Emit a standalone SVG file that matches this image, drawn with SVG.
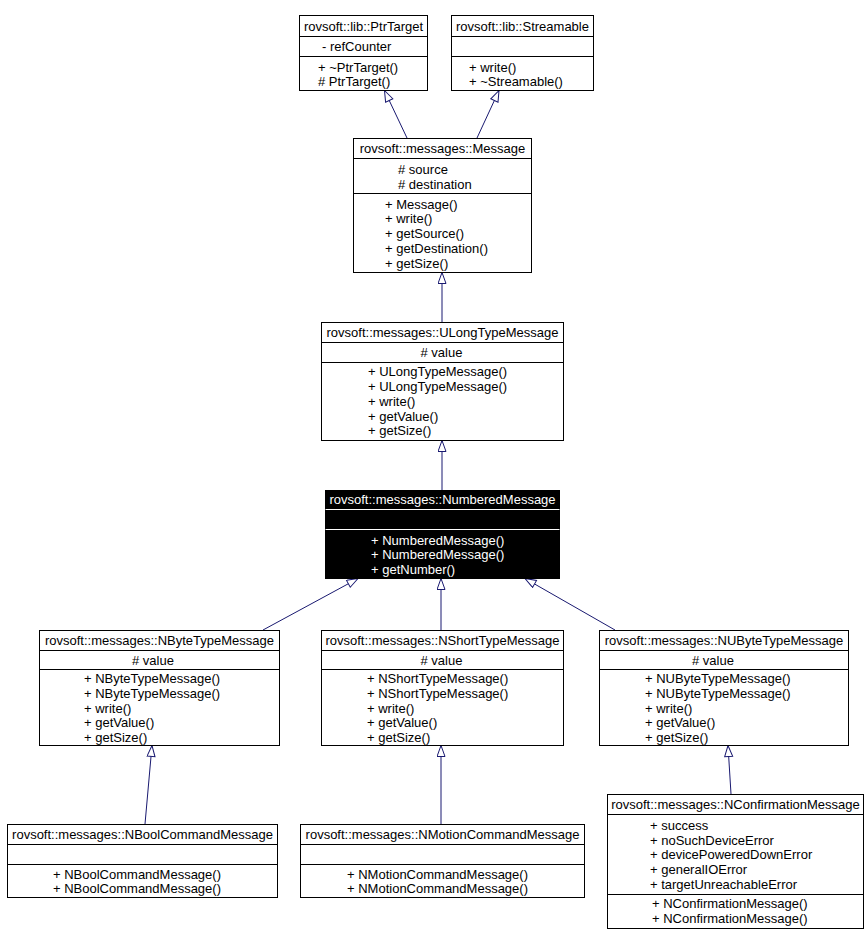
<svg xmlns="http://www.w3.org/2000/svg" width="868" height="945" viewBox="0 0 868 945">
<style>
text{font-family:"Liberation Sans",Arial,sans-serif;font-size:13px;fill:#000}
.b{fill:#fff;stroke:#000;stroke-width:1}
.s{stroke:#000;stroke-width:1}
.t{text-anchor:middle}
.inv .b{fill:#000}
.inv .s{stroke:#fff}
.inv text{fill:#fff}
.c{fill:none;stroke:#191970;stroke-width:1;marker-end:url(#tri)}
</style>
<defs>
<marker id="tri" markerUnits="userSpaceOnUse" markerWidth="14" markerHeight="10" refX="12" refY="4.5" orient="auto" viewBox="0 0 14 10">
<path d="M1,0.5 L12,4.5 L1,8.5 Z" fill="#fff" stroke="#191970" stroke-width="1"/>
</marker>
</defs>
<g id="connectors">
<line class="c" x1="407" y1="138" x2="384.5" y2="90.5"/>
<line class="c" x1="477" y1="138" x2="499" y2="90.5"/>
<line class="c" x1="442" y1="322" x2="442" y2="272.5"/>
<line class="c" x1="442" y1="490" x2="442" y2="440.5"/>
<line class="c" x1="263" y1="630" x2="358" y2="578.5"/>
<line class="c" x1="441" y1="630" x2="441" y2="578.5"/>
<line class="c" x1="615" y1="630" x2="525" y2="578.5"/>
<line class="c" x1="145" y1="824" x2="152" y2="745.5"/>
<line class="c" x1="441" y1="824" x2="441" y2="745.5"/>
<line class="c" x1="731" y1="794" x2="728" y2="745.5"/>
</g>
<g id="PtrTarget">
<rect class="b" x="299.5" y="15.5" width="128" height="75"/>
<line class="s" x1="299.5" y1="36.5" x2="427.5" y2="36.5"/>
<line class="s" x1="299.5" y1="56.5" x2="427.5" y2="56.5"/>
<text class="t" x="363.5" y="30.5">rovsoft::lib::PtrTarget</text>
<text x="322" y="51">- refCounter</text>
<text x="318" y="71.5">+ ~PtrTarget()</text>
<text x="318" y="86">#  PtrTarget()</text>
</g>
<g id="Streamable">
<rect class="b" x="451.5" y="15.5" width="142" height="75"/>
<line class="s" x1="451.5" y1="36.5" x2="593.5" y2="36.5"/>
<line class="s" x1="451.5" y1="56.5" x2="593.5" y2="56.5"/>
<text class="t" x="522.5" y="30.5">rovsoft::lib::Streamable</text>
<text x="469" y="71.5">+ write()</text>
<text x="469" y="86">+ ~Streamable()</text>
</g>
<g id="Message">
<rect class="b" x="353.5" y="138.5" width="178" height="134"/>
<line class="s" x1="353.5" y1="158.5" x2="531.5" y2="158.5"/>
<line class="s" x1="353.5" y1="193.5" x2="531.5" y2="193.5"/>
<text class="t" x="442.5" y="153">rovsoft::messages::Message</text>
<text x="398" y="173.5">#  source</text>
<text x="398" y="188.5">#  destination</text>
<text x="385" y="208.5">+ Message()</text>
<text x="385" y="223">+ write()</text>
<text x="385" y="238">+ getSource()</text>
<text x="385" y="252.5">+ getDestination()</text>
<text x="385" y="267.5">+ getSize()</text>
</g>
<g id="ULongTypeMessage">
<rect class="b" x="321.5" y="322.5" width="242" height="118"/>
<line class="s" x1="321.5" y1="342.5" x2="563.5" y2="342.5"/>
<line class="s" x1="321.5" y1="362.5" x2="563.5" y2="362.5"/>
<text class="t" x="442.5" y="337">rovsoft::messages::ULongTypeMessage</text>
<text class="t" x="441.5" y="357">#  value</text>
<text x="368" y="376">+ ULongTypeMessage()</text>
<text x="368" y="391">+ ULongTypeMessage()</text>
<text x="368" y="405.5">+ write()</text>
<text x="368" y="420.5">+ getValue()</text>
<text x="368" y="435">+ getSize()</text>
</g>
<g id="NumberedMessage" class="inv">
<rect class="b" x="325.5" y="490.5" width="234" height="88"/>
<line class="s" x1="325.5" y1="509.5" x2="559.5" y2="509.5"/>
<line class="s" x1="325.5" y1="529.5" x2="559.5" y2="529.5"/>
<text class="t" x="442.5" y="504">rovsoft::messages::NumberedMessage</text>
<text x="371" y="544.5">+ NumberedMessage()</text>
<text x="371" y="559">+ NumberedMessage()</text>
<text x="371" y="574">+ getNumber()</text>
</g>
<g id="NByteTypeMessage">
<rect class="b" x="39.5" y="630.5" width="240" height="115"/>
<line class="s" x1="39.5" y1="650.5" x2="279.5" y2="650.5"/>
<line class="s" x1="39.5" y1="669.5" x2="279.5" y2="669.5"/>
<text class="t" x="159.5" y="644.5">rovsoft::messages::NByteTypeMessage</text>
<text class="t" x="153" y="664.5">#  value</text>
<text x="84" y="683">+ NByteTypeMessage()</text>
<text x="84" y="697.5">+ NByteTypeMessage()</text>
<text x="84" y="712.5">+ write()</text>
<text x="84" y="727">+ getValue()</text>
<text x="84" y="742">+ getSize()</text>
</g>
<g id="NShortTypeMessage">
<rect class="b" x="321.5" y="630.5" width="242" height="115"/>
<line class="s" x1="321.5" y1="650.5" x2="563.5" y2="650.5"/>
<line class="s" x1="321.5" y1="669.5" x2="563.5" y2="669.5"/>
<text class="t" x="442.5" y="644.5">rovsoft::messages::NShortTypeMessage</text>
<text class="t" x="441.5" y="664.5">#  value</text>
<text x="367" y="683">+ NShortTypeMessage()</text>
<text x="367" y="697.5">+ NShortTypeMessage()</text>
<text x="367" y="712.5">+ write()</text>
<text x="367" y="727">+ getValue()</text>
<text x="367" y="742">+ getSize()</text>
</g>
<g id="NUByteTypeMessage">
<rect class="b" x="599.5" y="630.5" width="249" height="115"/>
<line class="s" x1="599.5" y1="650.5" x2="848.5" y2="650.5"/>
<line class="s" x1="599.5" y1="669.5" x2="848.5" y2="669.5"/>
<text class="t" x="724" y="644.5">rovsoft::messages::NUByteTypeMessage</text>
<text class="t" x="713" y="664.5">#  value</text>
<text x="645" y="683">+ NUByteTypeMessage()</text>
<text x="645" y="697.5">+ NUByteTypeMessage()</text>
<text x="645" y="712.5">+ write()</text>
<text x="645" y="727">+ getValue()</text>
<text x="645" y="742">+ getSize()</text>
</g>
<g id="NBoolCommandMessage">
<rect class="b" x="7.5" y="824.5" width="270" height="73"/>
<line class="s" x1="7.5" y1="844.5" x2="277.5" y2="844.5"/>
<line class="s" x1="7.5" y1="864.5" x2="277.5" y2="864.5"/>
<text class="t" x="142.5" y="839">rovsoft::messages::NBoolCommandMessage</text>
<text x="53" y="879">+ NBoolCommandMessage()</text>
<text x="53" y="893">+ NBoolCommandMessage()</text>
</g>
<g id="NMotionCommandMessage">
<rect class="b" x="300.5" y="824.5" width="284" height="73"/>
<line class="s" x1="300.5" y1="844.5" x2="584.5" y2="844.5"/>
<line class="s" x1="300.5" y1="864.5" x2="584.5" y2="864.5"/>
<text class="t" x="442.5" y="839">rovsoft::messages::NMotionCommandMessage</text>
<text x="347" y="879">+ NMotionCommandMessage()</text>
<text x="347" y="893">+ NMotionCommandMessage()</text>
</g>
<g id="NConfirmationMessage">
<rect class="b" x="607.5" y="794.5" width="256" height="134"/>
<line class="s" x1="607.5" y1="814.5" x2="863.5" y2="814.5"/>
<line class="s" x1="607.5" y1="894.5" x2="863.5" y2="894.5"/>
<text class="t" x="735.5" y="809">rovsoft::messages::NConfirmationMessage</text>
<text x="650" y="829.5">+ success</text>
<text x="650" y="844.5">+ noSuchDeviceError</text>
<text x="650" y="859">+ devicePoweredDownError</text>
<text x="650" y="874">+ generalIOError</text>
<text x="650" y="888.5">+ targetUnreachableError</text>
<text x="652" y="908">+ NConfirmationMessage()</text>
<text x="652" y="922.5">+ NConfirmationMessage()</text>
</g>
</svg>
